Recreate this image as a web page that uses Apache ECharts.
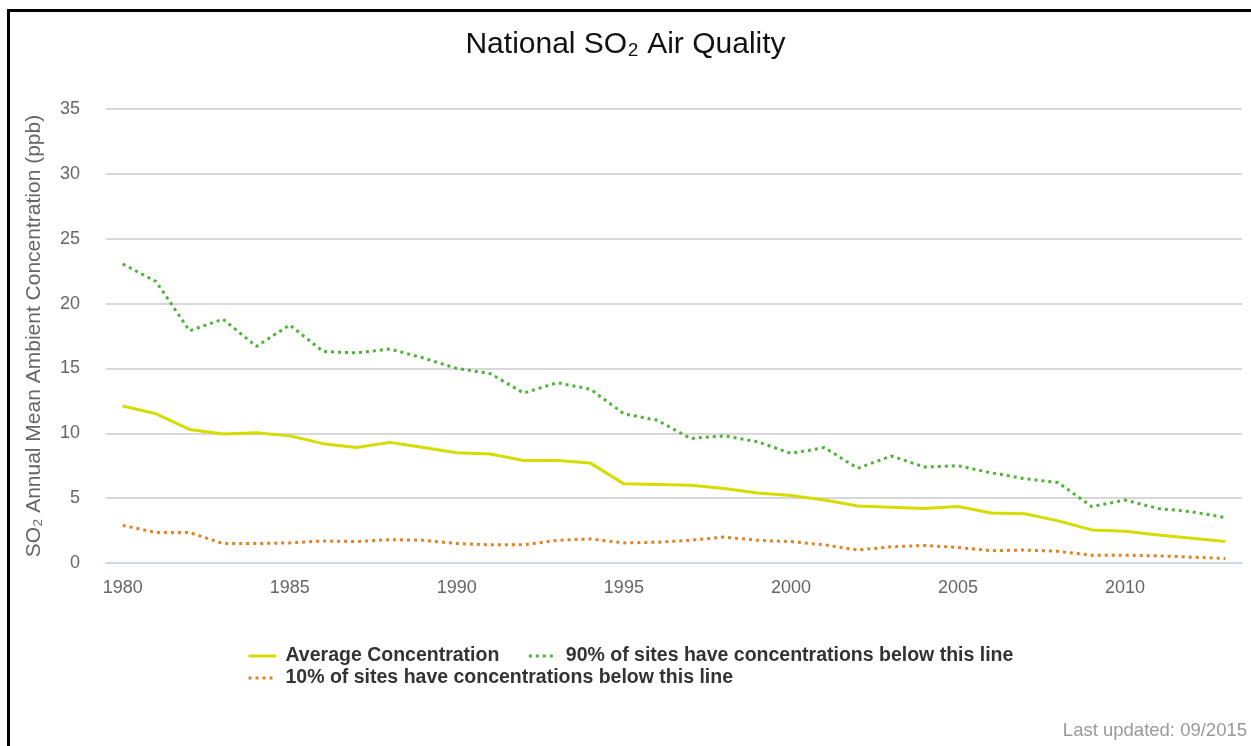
<!DOCTYPE html>
<html>
<head>
<meta charset="utf-8">
<script src="https://cdn.jsdelivr.net/npm/echarts@6/dist/echarts.min.js"></script>
<style>
  html, body { margin: 0; padding: 0; background: #fff; }
  #chart { width: 1251px; height: 746px; }
</style>
</head>
<body>
<div id="chart"></div>
<script>
var years = []
for (var y = 1980; y <= 2013; y++) years.push(String(y))

// values (ppb)
var avgConc = [12.1, 11.5, 10.3, 9.95, 10.05, 9.8, 9.2, 8.9, 9.3, 8.9, 8.5, 8.4,
  7.9, 7.9, 7.7, 6.1, 6.05, 6.0, 5.75, 5.4, 5.2, 4.85, 4.4, 4.3, 4.2, 4.35,
  3.85, 3.8, 3.25, 2.55, 2.45, 2.15, 1.9, 1.65]
var pct90 = [23.05, 21.7, 17.9, 18.8, 16.7, 18.35, 16.3, 16.2, 16.5, 15.8, 15.0, 14.6,
  13.1, 13.9, 13.4, 11.5, 11.0, 9.6, 9.8, 9.35, 8.45, 8.9, 7.3, 8.25, 7.4, 7.5,
  6.95, 6.5, 6.2, 4.35, 4.85, 4.2, 3.95, 3.5]
var pct10 = [2.9, 2.35, 2.35, 1.5, 1.5, 1.55, 1.7, 1.65, 1.8, 1.75, 1.5, 1.4,
  1.4, 1.75, 1.85, 1.55, 1.6, 1.75, 2.0, 1.75, 1.65, 1.4, 1.0, 1.25, 1.35, 1.2,
  0.95, 1.0, 0.9, 0.6, 0.6, 0.55, 0.45, 0.35]

var seriesNames = [
  'Average Concentration',
  '90% of sites have concentrations below this line',
  '10% of sites have concentrations below this line'
]

var chart = echarts.init(document.getElementById('chart'))
var fontFam = '"Liberation Sans", Arial, sans-serif'

var legendBase = {
  left: 242,
  itemGap: 28,
  itemWidth: 28,
  itemHeight: 12,
  itemStyle: { opacity: 0 },
  lineStyle: { width: 3 },
  textStyle: { fontSize: 19.5, fontWeight: 'bold', color: '#333', fontFamily: fontFam, padding: [0, 0, 0, 4] }
}

var option = {
  animation: false,
  textStyle: { fontFamily: fontFam },
  title: {
    text: 'National SO\u2082 Air Quality',
    left: 'center',
    top: 25,
    textStyle: { fontSize: 30, fontWeight: 'normal', color: '#111', fontFamily: fontFam }
  },
  grid: { left: 106, right: 9, top: 109, bottom: 183 },
  legend: [
    Object.assign({}, legendBase, { top: 641, data: [seriesNames[0], seriesNames[1]] }),
    Object.assign({}, legendBase, { top: 663, data: [seriesNames[2]] })
  ],
  xAxis: {
    type: 'category',
    data: years,
    boundaryGap: true,
    axisLine: { lineStyle: { color: '#ccd6eb', width: 2 } },
    axisTick: { alignWithLabel: true, interval: 4, length: 8, lineStyle: { color: '#ccd6eb', width: 2 } },
    axisLabel: { interval: 4, color: '#666', fontSize: 18, margin: 16, fontFamily: fontFam },
    splitLine: { show: false }
  },
  yAxis: {
    type: 'value',
    min: 0,
    max: 35,
    interval: 5,
    name: 'SO\u2082 Annual Mean Ambient Concentration (ppb)',
    nameLocation: 'middle',
    nameGap: 61,
    nameTextStyle: { color: '#666', fontSize: 21, fontFamily: fontFam },
    axisLine: { show: false },
    axisTick: { show: false },
    axisLabel: { color: '#666', fontSize: 18, margin: 26, fontFamily: fontFam },
    splitLine: { lineStyle: { color: '#d8d8d8', width: 2 } }
  },
  series: [
    {
      name: seriesNames[0],
      type: 'line',
      data: avgConc,
      symbol: 'none',
      color: '#d6dc00',
      lineStyle: { color: '#d6dc00', width: 3 }
    },
    {
      name: seriesNames[1],
      type: 'line',
      data: pct90,
      symbol: 'none',
      color: '#4fb33a',
      lineStyle: { color: '#4fb33a', width: 3, type: [3, 4] }
    },
    {
      name: seriesNames[2],
      type: 'line',
      data: pct10,
      symbol: 'none',
      color: '#e5801f',
      lineStyle: { color: '#e5801f', width: 3, type: [3, 4] }
    }
  ],
  graphic: [
    { type: 'rect', shape: { x: 7, y: 9, width: 1244, height: 3 }, style: { fill: '#000' } },
    { type: 'rect', shape: { x: 7, y: 9, width: 3, height: 737 }, style: { fill: '#000' } },
    {
      type: 'text',
      right: 4,
      top: 721,
      style: { text: 'Last updated: 09/2015', fill: '#999', fontSize: 18.5, fontFamily: fontFam }
    }
  ]
}

chart.setOption(option)
</script>
</body>
</html>
